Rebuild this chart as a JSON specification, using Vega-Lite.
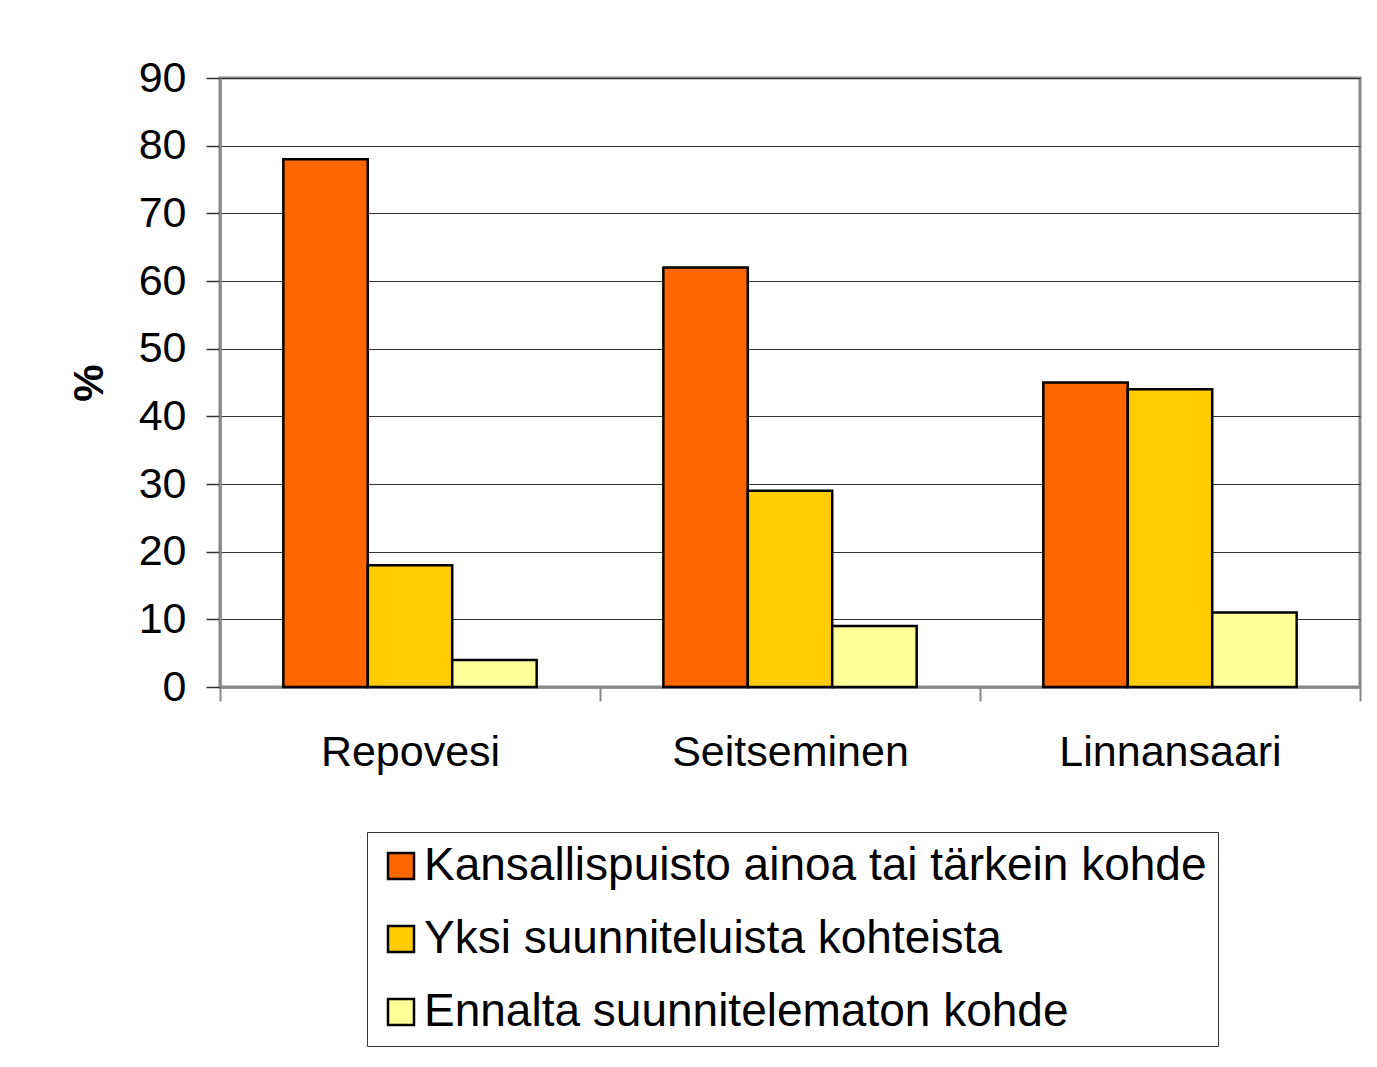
{
  "$schema": "https://vega.github.io/schema/vega-lite/v6.json",
  "width": 1140,
  "height": 609,
  "autosize": {"type": "none"},
  "padding": {"left": 220, "top": 78, "right": 17, "bottom": 380},
  "background": "white",
  "config": {
    "font": "Liberation Sans",
    "view": {"stroke": "#888888", "strokeWidth": 3},
    "axis": {"labelFont": "Liberation Sans", "titleFont": "Liberation Sans", "labelColor": "black", "titleColor": "black"}
  },
  "data": {
    "values": [
      {"park": "Repovesi", "type": "Kansallispuisto ainoa tai tärkein kohde", "value": 78},
      {"park": "Repovesi", "type": "Yksi suunniteluista kohteista", "value": 18},
      {"park": "Repovesi", "type": "Ennalta suunnitelematon kohde", "value": 4},
      {"park": "Seitseminen", "type": "Kansallispuisto ainoa tai tärkein kohde", "value": 62},
      {"park": "Seitseminen", "type": "Yksi suunniteluista kohteista", "value": 29},
      {"park": "Seitseminen", "type": "Ennalta suunnitelematon kohde", "value": 9},
      {"park": "Linnansaari", "type": "Kansallispuisto ainoa tai tärkein kohde", "value": 45},
      {"park": "Linnansaari", "type": "Yksi suunniteluista kohteista", "value": 44},
      {"park": "Linnansaari", "type": "Ennalta suunnitelematon kohde", "value": 11}
    ]
  },
  "mark": {"type": "bar", "stroke": "black", "strokeWidth": 2.5, "opacity": 1},
  "encoding": {
    "x": {
      "field": "park", "type": "nominal",
      "sort": ["Repovesi", "Seitseminen", "Linnansaari"],
      "scale": {"paddingInner": 0, "paddingOuter": 0},
      "axis": {
        "title": null, "labelAngle": 0, "labelFontSize": 43, "labelPadding": 30, "labelLimit": 1000,
        "tickBand": "extent", "tickSize": 14, "tickColor": "#888888", "tickWidth": 2,
        "domainColor": "#888888", "domainWidth": 2.5, "grid": false
      }
    },
    "xOffset": {
      "field": "type", "type": "nominal",
      "sort": ["Kansallispuisto ainoa tai tärkein kohde", "Yksi suunniteluista kohteista", "Ennalta suunnitelematon kohde"],
      "scale": {"paddingInner": 0, "paddingOuter": 0.75}
    },
    "y": {
      "field": "value", "type": "quantitative",
      "scale": {"domain": [0, 90], "nice": false},
      "axis": {
        "title": "%", "titleFontSize": 42, "titleFontWeight": "bold", "titlePadding": 27,
        "values": [0, 10, 20, 30, 40, 50, 60, 70, 80, 90],
        "labelFontSize": 43, "labelPadding": 20, "tickSize": 14, "tickColor": "#333333", "tickWidth": 1.5,
        "domainColor": "#888888", "domainWidth": 2.5,
        "grid": true, "gridColor": "#333333", "gridWidth": 1.2
      }
    },
    "color": {
      "field": "type", "type": "nominal",
      "sort": ["Kansallispuisto ainoa tai tärkein kohde", "Yksi suunniteluista kohteista", "Ennalta suunnitelematon kohde"],
      "scale": {
        "domain": ["Kansallispuisto ainoa tai tärkein kohde", "Yksi suunniteluista kohteista", "Ennalta suunnitelematon kohde"],
        "range": ["#FF6600", "#FFCC00", "#FFFF99"]
      },
      "legend": {
        "title": null, "orient": "none", "legendX": 147, "legendY": 754,
        "direction": "vertical",
        "strokeColor": "#333333", "padding": 11,
        "labelFontSize": 46, "labelFont": "Liberation Sans", "labelColor": "black", "labelLimit": 1000,
        "labelOffset": 0,
        "symbolType": "square", "symbolSize": 676, "symbolStrokeColor": "black", "symbolStrokeWidth": 2.5,
        "symbolOpacity": 1, "rowPadding": 27
      }
    }
  }
}
